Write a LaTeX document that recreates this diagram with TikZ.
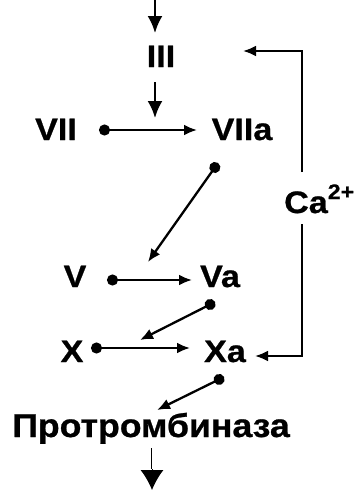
\documentclass[tikz,border=0pt]{standalone}
\usepackage{fontspec}
\newfontfamily\lblfont{Liberation Sans}[FakeStretch=1.1,FakeBold=0.8]
\newfontfamily\protfont{Liberation Sans}[FakeStretch=1.08,FakeBold=0.8]
\usetikzlibrary{arrows.meta}
\tikzset{
  lbl/.style={inner sep=0pt, font=\lblfont\bfseries\fontsize{31}{36}\selectfont},
  prot/.style={inner sep=0pt, font=\protfont\bfseries\fontsize{33}{38}\selectfont},
  conn/.style={line width=2.3pt, -{Latex[length=13pt,width=11pt]}},
  dotconn/.style={line width=2.3pt, {Circle[length=11pt]}-{Latex[length=13pt,width=11pt]}},
  vconn/.style={line width=2.3pt, -{Latex[length=17pt,width=15pt]}},
}
\begin{document}
\begin{tikzpicture}[x=1pt,y=-1pt]
\useasboundingbox (0,0) rectangle (356,491);
% labels
\node[lbl, anchor=base] (iii) at (161,67) {III};
\node[lbl, anchor=base] (vii) at (56,140) {VII};
\node[lbl, anchor=base] (viia) at (242,140) {VIIa};
\node[lbl, anchor=base] (v) at (75,287) {V};
\node[lbl, anchor=base] (va) at (220,287) {Va};
\node[lbl, anchor=base] (x) at (72,362) {X};
\node[lbl, anchor=base] (xa) at (225,362) {Xa};
\node[lbl, anchor=base west] (ca) at (284,213) {Ca\raisebox{14pt}{\fontsize{21}{21}\selectfont 2+}};
\node[prot, anchor=base] (pt) at (151,437) {Протромбиназа};
% coordinates
\coordinate (topstart) at (155,0);
\coordinate (toptip) at (155,33);
\coordinate (iiibot) at (155,82);
\coordinate (iiitip) at (155,118);
\coordinate (viidot) at (99,130);
\coordinate (viitip) at (197,130);
\coordinate (viiadot) at (218,163);
\coordinate (viiatip) at (148,262);
\coordinate (vdot) at (107,280);
\coordinate (vtip) at (192,280);
\coordinate (vadot) at (215,302);
\coordinate (vatip) at (140,340);
\coordinate (xdot) at (91,348);
\coordinate (xtip) at (190,348);
\coordinate (xadot) at (224,377);
\coordinate (xatip) at (157,410);
\coordinate (catop) at (302,172);
\coordinate (cacorner1) at (302,51);
\coordinate (catip1) at (243,51);
\coordinate (cabot) at (302,224);
\coordinate (cacorner2) at (302,356);
\coordinate (catip2) at (255,356);
\coordinate (fin1) at (152,448);
\coordinate (fin2) at (152,469);
\coordinate (fin3) at (152,490);
% connectors
\draw[vconn] (topstart) -- (toptip);
\draw[vconn] (iiibot) -- (iiitip);
\draw[dotconn] (viidot) -- (viitip);
\draw[dotconn] (viiadot) -- (viiatip);
\draw[dotconn] (vdot) -- (vtip);
\draw[dotconn] (vadot) -- (vatip);
\draw[dotconn] (xdot) -- (xtip);
\draw[dotconn] (xadot) -- (xatip);
\draw[conn] (catop) -- (cacorner1) -- (catip1);
\draw[conn] (cabot) -- (cacorner2) -- (catip2);
\draw[line width=0.5pt, double, double distance=1pt] (fin1) -- (fin2);
\draw[line width=1pt, -{Latex[length=20pt,width=23pt]}] (fin2) -- (fin3);
\end{tikzpicture}
\end{document}
